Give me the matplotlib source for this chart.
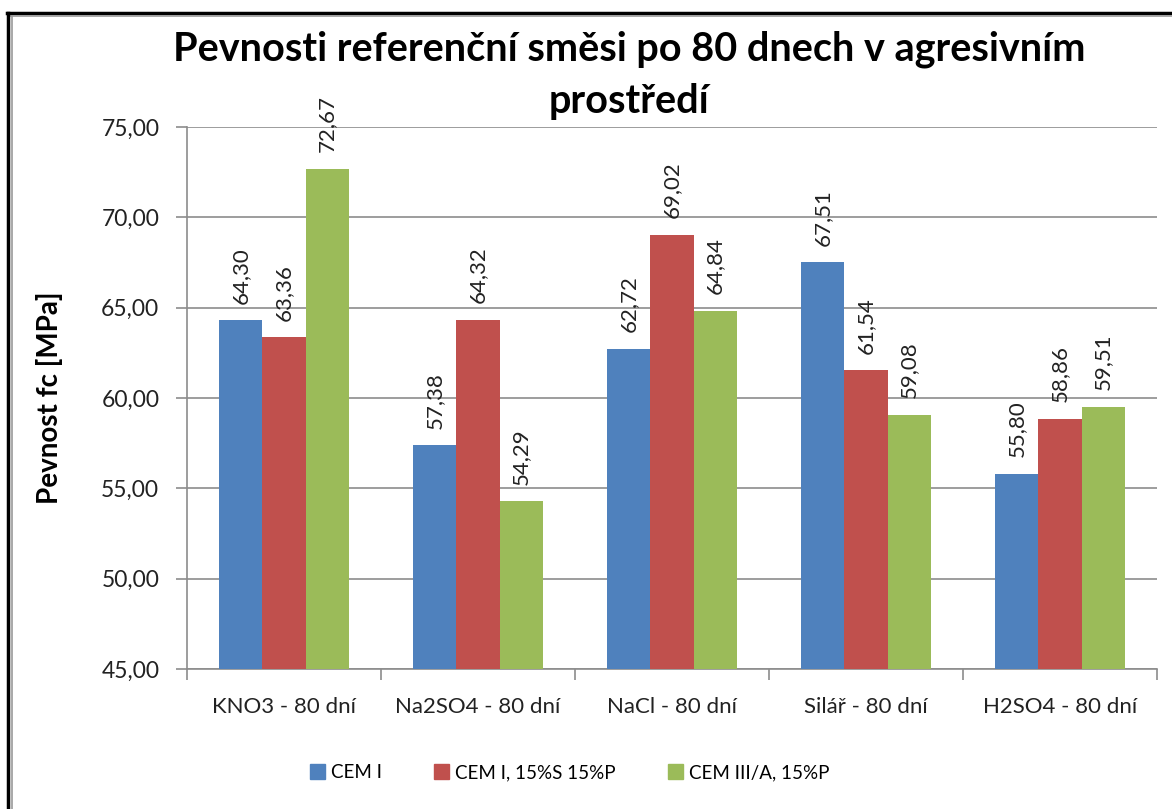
import numpy as np
import matplotlib
matplotlib.use('Agg')
import matplotlib.pyplot as plt
from matplotlib.lines import Line2D
from matplotlib.patches import Patch

# data
kategorie = ['KNO3 - 80 dní', 'Na2SO4 - 80 dní', 'NaCl - 80 dní', 'Silář - 80 dní', 'H2SO4 - 80 dní']
cem_i = [64.30, 57.38, 62.72, 67.51, 55.80]
cem_i_sp = [63.36, 64.32, 69.02, 61.54, 58.86]
cem_iii = [72.67, 54.29, 64.84, 59.08, 59.51]
serie_nazvy = ['CEM I', 'CEM I, 15%S 15%P', 'CEM III/A, 15%P']
barvy = ['#4F81BD', '#C0504D', '#9BBB59']
y_ticks = [45, 50, 55, 60, 65, 70, 75]

plt.rcParams['font.family'] = ['Lato', 'DejaVu Sans']

fig = plt.figure(figsize=(11.72, 8.09), dpi=100)
ax = fig.add_axes([0.1596, 0.173, 0.8276, 0.670])

x = np.arange(len(kategorie))
sirka = 1 / 4.5
for i, (vals, nazev, barva) in enumerate(zip([cem_i, cem_i_sp, cem_iii], serie_nazvy, barvy)):
    pos = x + (i - 1) * sirka
    ax.bar(pos, [v - 45 for v in vals], bottom=45, width=sirka, color=barva, label=nazev, zorder=3)
    for p, v in zip(pos, vals):
        ax.annotate(f'{v:.2f}'.replace('.', ','), (p, v), xytext=(0, 12), textcoords='offset points',
                    rotation=90, ha='center', va='bottom', fontsize=16, color='#222222',
                    annotation_clip=False)

ax.set_xlim(-0.5, len(kategorie) - 0.5)
ax.set_ylim(45, 75)
ax.set_yticks(y_ticks)
ax.set_yticklabels([f'{t:.2f}'.replace('.', ',') for t in y_ticks], fontsize=16.5, color='#222222')
ax.yaxis.grid(True, color='#8c8c8c', linewidth=1.2, zorder=0)

ax.set_xticks(x)
ax.set_xticklabels(kategorie, fontsize=16, color='#222222')
ax.tick_params(axis='x', length=0, pad=20)
ax.set_xticks(np.arange(-0.5, len(kategorie)), minor=True)
ax.tick_params(axis='x', which='minor', length=8, color='#8c8c8c', width=1.2)
ax.tick_params(axis='y', length=8, color='#8c8c8c', width=1.2, pad=12)

for s in ['top', 'right']:
    ax.spines[s].set_visible(False)
for s in ['left', 'bottom']:
    ax.spines[s].set_color('#8c8c8c')
    ax.spines[s].set_linewidth(1.2)

ax.set_ylabel('Pevnost fc [MPa]', fontsize=20, fontweight='bold')
ax.yaxis.set_label_coords(-0.128, 0.5)

# nadpis ve dvou radcich
fig.text(0.537, 1 - 61 / 809, 'Pevnosti referenční směsi po 80 dnech v agresivním',
         ha='center', va='baseline', fontsize=28.5, fontweight='bold')
fig.text(0.537, 1 - 113 / 809, 'prostředí',
         ha='center', va='baseline', fontsize=28.5, fontweight='bold')

handles = [Patch(color=b) for b in barvy]
fig.legend(handles, serie_nazvy, loc='center', bbox_to_anchor=(0.486, 0.045), ncol=3,
           frameon=False, fontsize=13.5, handlelength=0.8, handleheight=0.8,
           handletextpad=0.3, columnspacing=2.8)

# ramecek
fig.add_artist(Line2D([7 / 1172, 1], [1 - 12.5 / 809] * 2, color='black', linewidth=2.5))
fig.add_artist(Line2D([11 / 1172, 1], [1 - 15.5 / 809] * 2, color='#999999', linewidth=1.2))
fig.add_artist(Line2D([8 / 1172] * 2, [0, 1 - 12.5 / 809], color='black', linewidth=2.5))
fig.add_artist(Line2D([11.5 / 1172] * 2, [0, 1 - 15.5 / 809], color='#999999', linewidth=1.2))

fig.savefig('out.png', dpi=100)
